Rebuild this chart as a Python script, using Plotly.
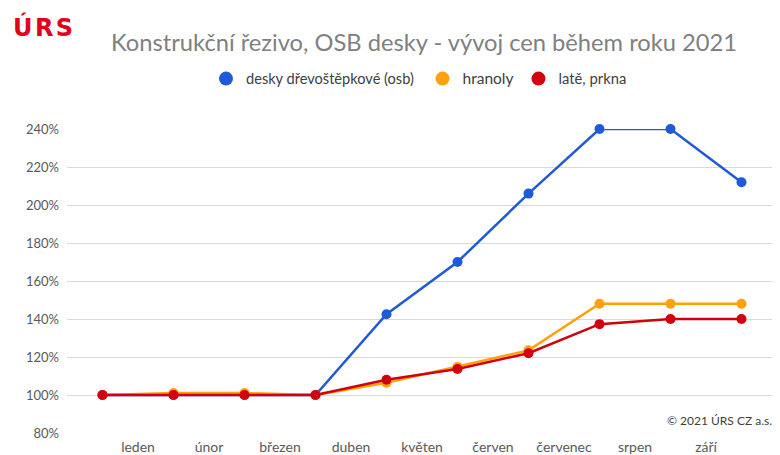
import plotly.graph_objects as go

months = ["leden", "únor", "březen", "duben", "květen", "červen", "červenec", "srpen", "září"]
points = list(range(10))
osb = [100, 100, 100, 100, 142.5, 170, 206, 240, 240, 212]
hranoly = [100, 101, 101, 100, 106.5, 114.8, 123.5, 148, 148, 148]
late = [100, 100, 100, 100, 108, 113.7, 122, 137.3, 140, 140]
names = ["desky dřevoštěpkové (osb)", "hranoly", "latě, prkna"]
legend_sizes = [14.6, 15.5, 14.8]
colors = ["#1f5bd6", "#ffa10a", "#d0000f"]
yticks = [80, 100, 120, 140, 160, 180, 200, 220, 240]

W, H = 772, 455  # page body has an 8px margin
L, T, PW, PH = 59, 121, 710, 304

fig = go.Figure()
for vals, name, col in zip([osb, hranoly, late], names, colors):
    fig.add_trace(go.Scatter(x=points, y=vals, mode="lines+markers", name=name,
                             line=dict(color=col, width=2.5),
                             marker=dict(color=col, size=10),
                             showlegend=False, cliponaxis=False))
for i, (name, col, fs) in enumerate(zip(names, colors, legend_sizes)):
    pad = "&nbsp;" if i == 0 else ""
    label = f'<span style="font-size:{fs}px">{name}{pad}</span>'
    fig.add_trace(go.Scatter(x=[None], y=[None], mode="markers", name=label,
                             marker=dict(color=col, size=14)))

fig.update_layout(
    width=W, height=H,
    margin=dict(l=L, r=W - L - PW, t=T, b=H - T - PH, autoexpand=False),
    paper_bgcolor="white", plot_bgcolor="white",
    font=dict(family="Lato", color="#595959", size=13),
    title=dict(text="Konstrukční řezivo, OSB desky - vývoj cen během roku 2021",
               x=416 / W, xanchor="center", y=1 - 35 / H, yanchor="middle",
               font=dict(size=23.7, color="#808080")),
    legend=dict(orientation="h", xref="container", x=198 / W, xanchor="left",
                yref="container", y=1 - 71 / H, yanchor="middle",
                font=dict(size=14, color="#404040"),
                itemwidth=30, tracegroupgap=0),
    xaxis=dict(range=[-0.5, 9.5], tickmode="array",
               tickvals=[i + 0.5 for i in range(len(months))], ticktext=months,
               showgrid=False, zeroline=False, showline=False, automargin=False,
               tickfont=dict(size=14, color="#595959"), ticklabelstandoff=4),
    yaxis=dict(range=[80, 240], tickmode="array", tickvals=yticks,
               ticktext=[f"{v}%" for v in yticks], automargin=False,
               showgrid=True, gridcolor="#d9d9d9", gridwidth=1, zeroline=False,
               showline=False, tickfont=dict(size=13, color="#595959"),
               ticklabelstandoff=7),
    annotations=[
        dict(text="<b>Ú&#8202;R&#8202;S</b>", xref="paper", yref="paper", x=(3 - L) / PW,
             y=1 + (T - 19) / PH, xanchor="left", yanchor="middle", showarrow=False,
             font=dict(family="DejaVu Sans", size=24, color="#e3001b")),
        dict(text="© 2021 ÚRS CZ a.s.", xref="paper", yref="paper", x=1, xshift=-3,
             y=13 / PH, xanchor="right", yanchor="middle", showarrow=False,
             font=dict(size=12, color="#404040")),
    ],
)

fig.write_html("out.html")
